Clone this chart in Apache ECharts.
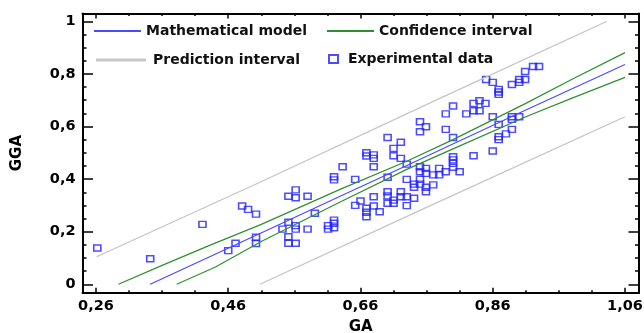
<!DOCTYPE html>
<html><head><meta charset="utf-8">
<script src="https://cdn.jsdelivr.net/npm/echarts@6/dist/echarts.min.js"></script>
<style>html,body{margin:0;padding:0;background:#fff}#c{width:644px;height:333px}</style>
</head><body><div id="c"></div>
<script>
// ---- data ----
const expGA = [0.262,0.342,0.421,0.460,0.471,0.481,0.490,0.502,0.502,0.502,
  0.542,0.551,0.551,0.551,0.551,0.562,0.562,0.562,0.562,0.562,
  0.580,0.580,0.591,0.611,0.611,0.620,0.620,0.620,0.620,0.620,
  0.633,0.652,0.652,0.660,
  0.669,0.669,0.669,0.669,0.669,
  0.680,0.680,0.680,0.680,0.680,
  0.689,
  0.701,0.701,0.701,0.701,0.701,
  0.710,0.710,0.710,0.710,
  0.721,0.721,0.721,0.721,
  0.730,0.730,0.730,0.730,
  0.741,0.741,0.741,
  0.750,0.750,0.750,0.750,0.750,0.750,
  0.759,0.759,0.759,0.759,0.759,
  0.770,0.770,
  0.779,0.779,
  0.789,0.789,0.789,
  0.800,0.800,0.800,0.800,0.800,0.800,
  0.810,0.820,
  0.831,0.831,0.831,
  0.840,0.840,
  0.849,0.850,
  0.860,0.860,0.860,
  0.869,0.869,0.869,0.869,0.869,0.869,
  0.880,
  0.889,0.889,0.889,0.889,
  0.900,0.900,0.900,
  0.909,0.909,
  0.921,0.930];
const expGGA = [0.138,0.097,0.228,0.128,0.156,0.298,0.285,0.267,0.179,0.155,
  0.210,0.236,0.181,0.156,0.335,0.223,0.210,0.156,0.359,0.329,
  0.335,0.210,0.270,0.223,0.210,0.244,0.232,0.215,0.409,0.397,
  0.447,0.399,0.300,0.317,
  0.500,0.488,0.289,0.274,0.257,
  0.492,0.479,0.447,0.333,0.298,
  0.276,
  0.558,0.407,0.352,0.336,0.308,
  0.517,0.489,0.320,0.308,
  0.540,0.479,0.352,0.333,
  0.457,0.399,0.333,0.299,
  0.327,0.381,0.369,
  0.618,0.580,0.447,0.428,0.399,0.381,
  0.599,0.441,0.422,0.369,0.352,
  0.416,0.378,
  0.441,0.416,
  0.589,0.648,0.428,
  0.678,0.558,0.485,0.473,0.460,0.445,
  0.428,0.648,
  0.688,0.660,0.489,
  0.698,0.660,
  0.688,0.779,
  0.637,0.507,0.768,
  0.741,0.731,0.722,0.608,0.561,0.550,
  0.572,
  0.760,0.637,0.627,0.589,
  0.779,0.768,0.637,
  0.809,0.779,
  0.828,0.828];

const modelGA  = [0.342,0.508,0.630,0.730,0.910,1.060];
const modelGGA = [0.000,0.193,0.336,0.452,0.663,0.836];

const ciUpGA   = [0.294,0.360,0.430,0.510,0.630,0.730,0.800,0.910,0.980,1.060];
const ciUpGGA  = [0.000,0.072,0.146,0.228,0.362,0.468,0.550,0.688,0.780,0.881];
const ciLoGA   = [0.382,0.440,0.510,0.630,0.730,0.800,0.910,0.980,1.060];
const ciLoGGA  = [0.000,0.065,0.163,0.314,0.437,0.515,0.637,0.708,0.787];

const piUpGA   = [0.261,0.508,0.780,1.032];
const piUpGGA  = [0.105,0.388,0.707,0.999];
const piLoGA   = [0.508,0.750,1.060];
const piLoGGA  = [0.000,0.281,0.637];

const xMajorTicks = [0.26,0.46,0.66,0.86,1.06];
const xMinorTicks = [0.31,0.36,0.41,0.51,0.56,0.61,0.71,0.76,0.81,0.91,0.96,1.01];
const yMajorTicks = [0,0.2,0.4,0.6,0.8,1];
const yMinorTicks = [0.05,0.1,0.15,0.25,0.3,0.35,0.45,0.5,0.55,0.65,0.7,0.75,0.85,0.9,0.95];

// ---- chart ----
const X_MIN = 0.2396, X_MAX = 1.0812, Y_MIN = -0.0319, Y_MAX = 1.0297;
const FONT = 'DejaVu Sans';
const zip = (a, b) => a.map((v, i) => [v, b[i]]);

function xAx(pos, values, len, showLine, labels) {
  const ax = {
    type: 'value', gridIndex: 0, position: pos, min: X_MIN, max: X_MAX,
    axisLine: { show: showLine, onZero: false, lineStyle: { color: '#000', width: 2 } },
    axisTick: { show: true, inside: true, length: len, customValues: values, lineStyle: { color: '#000', width: 1.5 } },
    axisLabel: { show: !!labels, customValues: values, margin: 6, fontFamily: FONT, fontWeight: 'bold', fontSize: 14.5, color: '#000',
      formatter: v => v.toFixed(2).replace('.', ',') },
    splitLine: { show: false }
  };
  if (labels) {
    ax.name = 'GA'; ax.nameLocation = 'middle'; ax.nameGap = 27; ax.nameMoveOverlap = false;
    ax.nameTextStyle = { fontFamily: FONT, fontWeight: 'bold', fontSize: 15, color: '#000' };
  }
  return ax;
}
function yAx(pos, values, len, showLine, labels) {
  const ax = {
    type: 'value', gridIndex: 0, position: pos, min: Y_MIN, max: Y_MAX,
    axisLine: { show: showLine, onZero: false, lineStyle: { color: '#000', width: 2 } },
    axisTick: { show: true, inside: true, length: len, customValues: values, lineStyle: { color: '#000', width: 1.5 } },
    axisLabel: { show: !!labels, customValues: values, margin: 7, fontFamily: FONT, fontWeight: 'bold', fontSize: 14.5, color: '#000',
      formatter: v => String(Math.round(v * 10) / 10).replace('.', ',') },
    splitLine: { show: false }
  };
  if (labels) {
    ax.name = 'GGA'; ax.nameLocation = 'middle'; ax.nameGap = 58; ax.nameRotate = 90; ax.nameMoveOverlap = false;
    ax.nameTextStyle = { fontFamily: FONT, fontWeight: 'bold', fontSize: 15, color: '#000' };
  }
  return ax;
}

const lineSeries = (name, xs, ys, color) => ({
  name, type: 'line', xAxisIndex: 0, yAxisIndex: 0, data: zip(xs, ys),
  symbol: 'none', showSymbol: false, smooth: false, silent: true,
  lineStyle: { color, width: 1.2 }, itemStyle: { color }
});

const legText = { fontFamily: FONT, fontWeight: 'bold', fontSize: 14, color: '#111' };
const option = {
  animation: false,
  grid: { left: 82.5, right: 5, top: 13.5, bottom: 40.3, containLabel: false, outerBoundsMode: 'none' },
  xAxis: [
    xAx('bottom', xMajorTicks, 5, true, true),
    xAx('bottom', xMinorTicks, 2.5, false, false),
    xAx('top', xMajorTicks, 5, true, false),
    xAx('top', xMinorTicks, 2.5, false, false)
  ],
  yAxis: [
    yAx('left', yMajorTicks, 10.5, true, true),
    yAx('left', yMinorTicks, 4, false, false),
    yAx('right', yMajorTicks, 10.5, true, false),
    yAx('right', yMinorTicks, 4, false, false)
  ],
  legend: [
    { data: [{ name: 'Mathematical model', icon: 'rect' }], left: 94, top: 24, padding: 0, itemWidth: 47, itemHeight: 2,
      textStyle: legText, selectedMode: false },
    { data: [{ name: 'Confidence interval', icon: 'rect' }], left: 327, top: 24, padding: 0, itemWidth: 47, itemHeight: 2,
      textStyle: legText, selectedMode: false },
    { data: [{ name: 'Prediction interval', icon: 'rect' }], left: 96, top: 53, padding: 0, itemWidth: 50, itemHeight: 3,
      itemStyle: { color: '#c8c8c8' }, textStyle: Object.assign({ padding: [0, 0, 0, 2] }, legText), selectedMode: false },
    { data: ['Experimental data'], left: 328, top: 52, padding: 0, itemWidth: 9, itemHeight: 8,
      itemStyle: { borderWidth: 2 }, textStyle: Object.assign({ padding: [0, 0, 0, 5] }, legText), selectedMode: false }
  ],
  series: [
    lineSeries('Prediction interval', piUpGA, piUpGGA, '#c4c4c4'),
    lineSeries('Prediction interval', piLoGA, piLoGGA, '#c4c4c4'),
    lineSeries('Confidence interval', ciUpGA, ciUpGGA, '#2f8f2f'),
    lineSeries('Confidence interval', ciLoGA, ciLoGGA, '#2f8f2f'),
    lineSeries('Mathematical model', modelGA, modelGGA, '#4a4aff'),
    { name: 'Experimental data', type: 'scatter', xAxisIndex: 0, yAxisIndex: 0, data: zip(expGA, expGGA),
      symbol: 'rect', symbolSize: [7, 6], silent: true,
      itemStyle: { color: 'rgba(0,0,0,0)', borderColor: '#2020ff', borderWidth: 1.5 } }
  ]
};
echarts.init(document.getElementById('c'), null, { renderer: 'canvas' }).setOption(option);
</script></body></html>
